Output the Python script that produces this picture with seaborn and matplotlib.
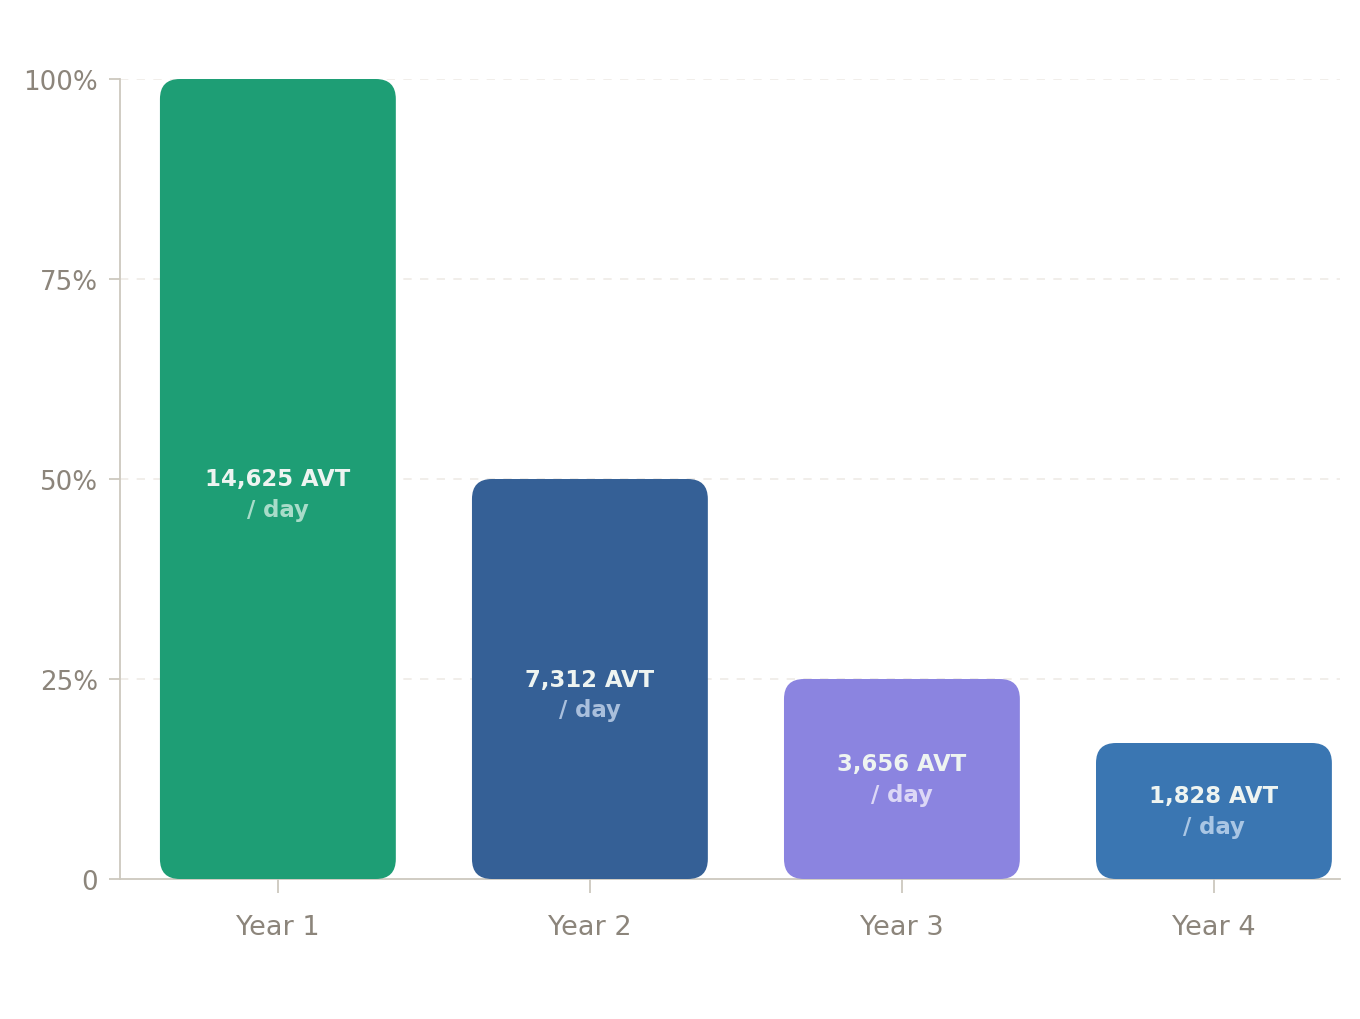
import matplotlib
matplotlib.use("Agg")
import matplotlib.pyplot as plt
import seaborn as sns
import pandas as pd
from matplotlib.patches import FancyBboxPatch
from matplotlib import transforms

categories = ["Year 1", "Year 2", "Year 3", "Year 4"]
shares = [1.00, 0.50, 0.25, 0.17]
amounts = ["14,625 AVT", "7,312 AVT", "3,656 AVT", "1,828 AVT"]
unit = "/ day"
colors = ["#1e9e75", "#356096", "#8b84e0", "#3a76b2"]
sub_colors = ["#a8dcc9", "#a9bfdc", "#dcd8f6", "#a9c6e4"]
ytick_vals = [0, 0.25, 0.5, 0.75, 1.0]
ytick_labels = ["0", "25%", "50%", "75%", "100%"]

sns.set_theme(style="white")
plt.rcParams["font.family"] = ["DejaVu Sans"]

df = pd.DataFrame({"cat": categories, "share": shares})

fig = plt.figure(figsize=(13.6, 10.2), dpi=100)
ax = fig.add_axes([120 / 1360, 1 - 880 / 1020, 1220 / 1360, 800 / 1020])

sns.barplot(data=df, x="cat", y="share", hue="cat", palette=colors,
            width=0.756, legend=False, ax=ax, saturation=1)

ax.set_xlim(-0.506, 3.404)
ax.set_ylim(0, 1.0)

# grid
for v in ytick_vals[1:]:
    ax.axhline(v, color="#efebe6", lw=1.2, ls=(0, (5, 5)), zorder=0)

# replace bars with rounded ones
fig.canvas.draw()
patches = list(ax.patches)
to_px = ax.transData
for p, c in zip(patches, colors):
    x0, y0, w, h = p.get_x(), p.get_y(), p.get_width(), p.get_height()
    p.remove()
    (px0, py0) = to_px.transform((x0, y0))
    (px1, py1) = to_px.transform((x0 + w, y0 + h))
    r = 20
    fb = FancyBboxPatch((px0 + r, py0 + r), (px1 - px0) - 2 * r, (py1 - py0) - 2 * r,
                        boxstyle=f"round,pad={r}",
                        facecolor=c, edgecolor="none", zorder=3, clip_on=False)
    ax.add_patch(fb)
    fb.set_transform(transforms.IdentityTransform())

# labels
for i, (s, a, sc) in enumerate(zip(shares, amounts, sub_colors)):
    mid = s / 2
    if s >= 0.5:
        off1, off2 = 0, -31
    else:
        off1, off2 = 15.5, -15.5
    t1 = transforms.offset_copy(ax.transData, fig=fig, x=0, y=off1, units="dots")
    t2 = transforms.offset_copy(ax.transData, fig=fig, x=0, y=off2, units="dots")
    ax.text(i, mid, a, transform=t1, ha="center", va="center", color="#eef4f1",
            fontsize=16.4, fontweight="bold", zorder=5)
    ax.text(i, mid, unit, transform=t2, ha="center", va="center", color=sc,
            fontsize=16.4, fontweight="bold", zorder=5)

ax.set_yticks(ytick_vals)
ax.set_yticklabels(ytick_labels)
ax.set_xlabel("")
ax.set_ylabel("")

for side in ["top", "right"]:
    ax.spines[side].set_visible(False)
for side in ["left", "bottom"]:
    ax.spines[side].set_color("#cdc8be")
    ax.spines[side].set_linewidth(1.3)

ax.tick_params(axis="y", length=8, width=1.3, color="#cdc8be", labelcolor="#8c857b",
               labelsize=18.8, pad=8, left=True)
ax.tick_params(axis="x", length=10, width=1.3, color="#cdc8be", labelcolor="#8c857b",
               labelsize=19.5, pad=15, bottom=True)

fig.savefig("out.png", dpi=100, facecolor="white")
